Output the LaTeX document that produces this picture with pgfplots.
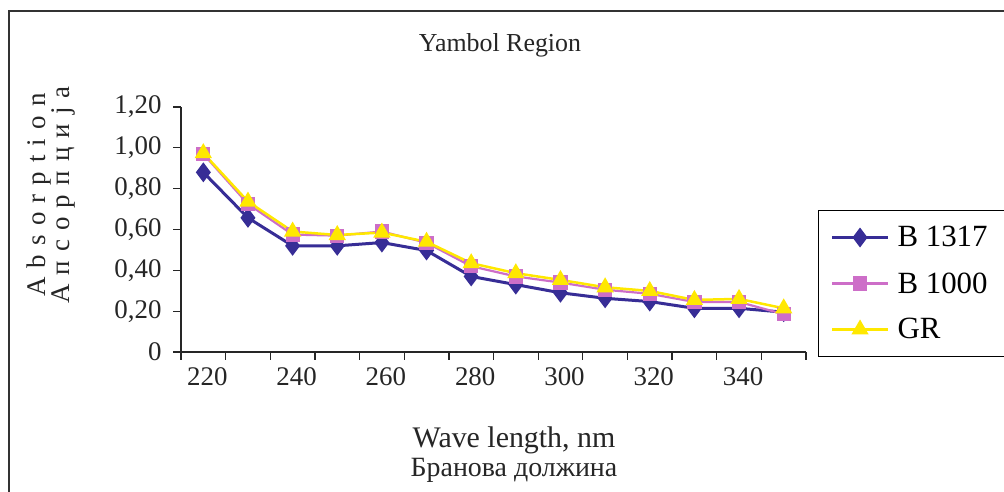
\documentclass[border=0pt]{standalone}
\usepackage{fontspec}
\setmainfont{Liberation Serif}
\usepackage{pgfplots}
\pgfplotsset{compat=1.18}
\definecolor{navyser}{RGB}{55,45,150}
\definecolor{pinkser}{RGB}{205,110,200}
\definecolor{yellser}{RGB}{255,232,0}

\begin{document}
\begin{tikzpicture}[x=1bp,y=1bp]
\useasboundingbox (0,0) rectangle (1004,492);
\fill[white] (0,0) rectangle (1004,492);
\draw[line width=2.5bp, black!80] (9,-5) -- (9,481) -- (1010,481);

\begin{axis}[
  at={(181bp,140bp)}, anchor=south west,
  scale only axis, width=625bp, height=245bp,
  xmin=215, xmax=355, ymin=0, ymax=1.2,
  axis lines*=left,
  axis line style={line width=1.3bp, black!85},
  tick style={line width=1.3bp, black!85},
  tick align=outside, major tick length=8bp,
  xtick={215,225,...,355}, xticklabels={},
  extra x ticks={220,240,...,340},
  extra x tick labels={220,240,260,280,300,320,340},
  extra x tick style={major tick length=0pt, tick label style={yshift=-12bp, xshift=4bp}},
  ytick={0,0.2,0.4,0.6,0.8,1.0,1.2},
  yticklabels={0,{0,20},{0,40},{0,60},{0,80},{1,00},{1,20}},
  tick label style={font=\fontsize{27}{30}\selectfont, text=black!85},
  yticklabel style={xshift=-8bp},
  legend style={at={(1.019,0.58)}, anchor=north west, draw=black, line width=1.3bp,
    font=\fontsize{31}{30}\selectfont, row sep=20bp, inner ysep=14bp, inner xsep=12bp,
    nodes={inner xsep=8bp}},
  legend cell align=left,
  legend image code/.code={\draw[mark repeat=2,mark phase=2,#1] plot coordinates {(0bp,0bp) (28bp,0bp) (56bp,0bp)};},
]
\addplot[navyser, line width=3bp, mark=diamond*, mark size=7.5bp] coordinates {
(220,0.880)(230,0.657)(240,0.520)(250,0.520)(260,0.536)(270,0.497)(280,0.370)
(290,0.330)(300,0.290)(310,0.263)(320,0.247)(330,0.214)(340,0.214)(350,0.195)};
\addlegendentry{\makebox[120bp][l]{B 1317}}
\addplot[pinkser, line width=2.2bp, mark=square*, mark size=6bp] coordinates {
(220,0.970)(230,0.725)(240,0.575)(250,0.570)(260,0.590)(270,0.535)(280,0.420)
(290,0.370)(300,0.340)(310,0.305)(320,0.285)(330,0.245)(340,0.245)(350,0.185)};
\addlegendentry{B 1000}
\addplot[yellser, line width=2.5bp, mark=triangle*, mark size=7.5bp] coordinates {
(220,0.974)(230,0.737)(240,0.590)(250,0.573)(260,0.585)(270,0.540)(280,0.435)
(290,0.386)(300,0.353)(310,0.317)(320,0.299)(330,0.255)(340,0.260)(350,0.214)};
\addlegendentry{GR}
\end{axis}

\node[font=\fontsize{26}{30}\selectfont, text=black!85] at (500,447) {Yambol Region};
\node[font=\fontsize{27}{30}\selectfont\addfontfeature{LetterSpace=34}, text=black!85, rotate=90] at (39,297) {Absorption};
\node[font=\fontsize{27}{30}\selectfont\addfontfeature{LetterSpace=34}, text=black!85, rotate=90] at (63,297) {Апсорпција};
\node[font=\fontsize{30}{30}\selectfont, text=black!85] at (514,52) {Wave length, nm};
\node[font=\fontsize{28}{30}\selectfont, text=black!85] at (514,22) {Бранова должина};
\end{tikzpicture}
\end{document}
